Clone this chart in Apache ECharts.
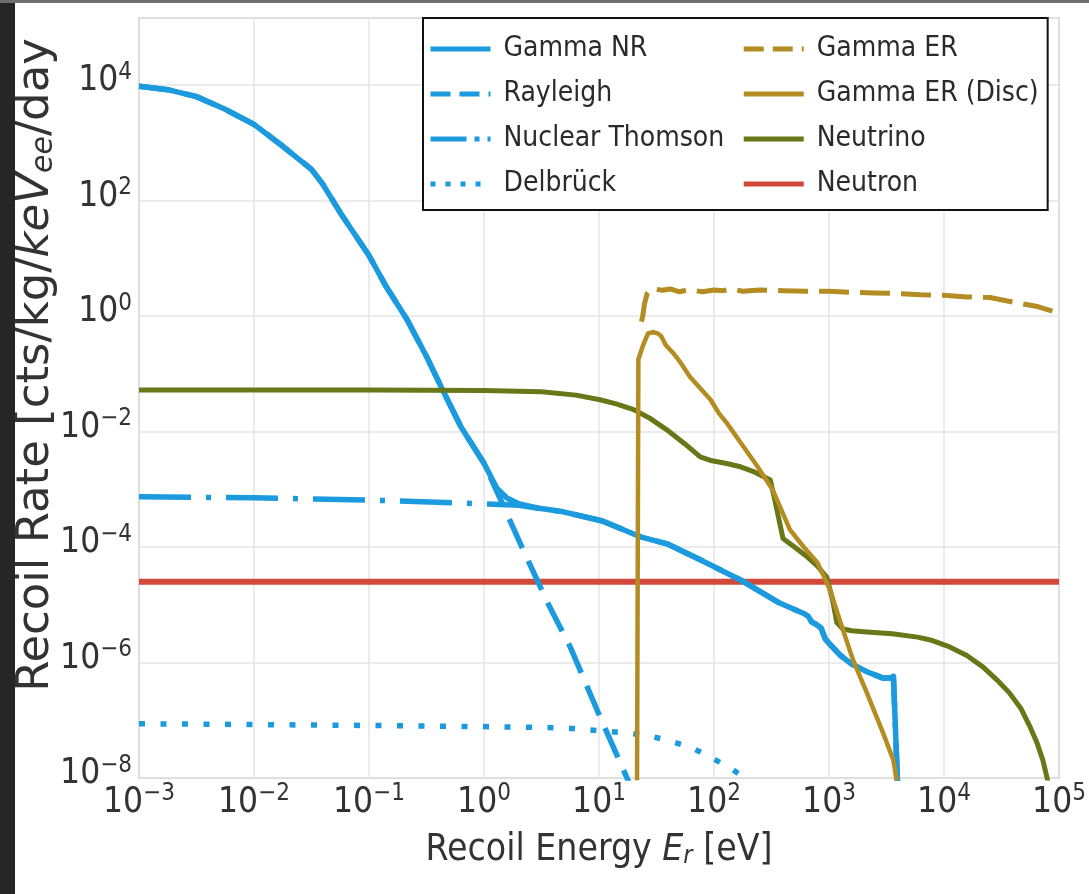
<!DOCTYPE html>
<html>
<head>
<meta charset="utf-8">
<script src="https://cdn.jsdelivr.net/npm/echarts@6/dist/echarts.min.js"></script>
<style>
  html, body { margin: 0; padding: 0; background: #ffffff; }
  #wrap { position: relative; width: 1089px; height: 894px; overflow: hidden; }
  #chart { position: absolute; left: 0; top: 0; width: 1089px; height: 894px; }
  .edge-left { position: absolute; left: 0; top: 0; width: 15px; height: 894px; background: #262626; }
  .edge-top { position: absolute; left: 0; top: 0; width: 1089px; height: 3px; background: #6e6e6e; }
</style>
</head>
<body>
<div id="wrap">
  <div id="chart"></div>
  <div class="edge-left"></div>
  <div class="edge-top"></div>
</div>
<script>
// Recoil spectra: energy in eV, rate in cts/kg/keVee/day

// Gamma NR (total nuclear recoil from gammas)
const nrEnergy = [1e-3, 1.78e-3, 3.16e-3, 5.62e-3, 1e-2, 1.78e-2, 3.16e-2, 3.98e-2, 5.62e-2, 0.1, 0.141, 0.214, 0.316, 0.437, 0.631, 1, 1.29, 1.58, 2.0, 2.82, 4.9, 10.7, 23.4, 39.8, 75.9, 170, 372, 603, 661, 708, 759, 851, 933, 1070, 1260, 1580, 2140, 2950, 3390, 3630, 3760, 3980];
const nrRate = [9.55e3, 8.32e3, 6.31e3, 3.8e3, 2.09e3, 871, 347, 190, 61.7, 11.2, 3.24, 0.871, 0.2, 5.25e-2, 1.2e-2, 2.82e-3, 1.05e-3, 7.08e-4, 5.62e-4, 4.79e-4, 4.07e-4, 2.82e-4, 1.48e-4, 1.12e-4, 6.03e-5, 2.69e-5, 1.07e-5, 7.08e-6, 6.31e-6, 5.01e-6, 4.68e-6, 3.98e-6, 2.51e-6, 1.86e-6, 1.32e-6, 9.33e-7, 6.92e-7, 5.37e-7, 5.37e-7, 5.75e-7, 1e-7, 5e-9];

// Rayleigh
const rayEnergy = [1e-3, 1.78e-3, 3.16e-3, 5.62e-3, 1e-2, 1.78e-2, 3.16e-2, 3.98e-2, 5.62e-2, 0.1, 0.141, 0.214, 0.316, 0.437, 0.631, 1, 1.41, 2.19, 3.55, 5.62, 10, 17.8, 20];
const rayRate = [9.55e3, 8.32e3, 6.31e3, 3.8e3, 2.09e3, 871, 347, 190, 61.7, 11.2, 3.24, 0.871, 0.2, 5.25e-2, 1.2e-2, 2.82e-3, 6.31e-4, 8.91e-5, 1.12e-5, 1.86e-6, 1.26e-7, 9.3e-9, 5e-9];

// Nuclear Thomson
const ntEnergy = [1e-3, 1e-2, 0.1, 1, 1.58, 2.0, 2.82, 4.9, 10.7, 23.4, 39.8, 75.9, 170, 372, 603, 661, 708, 759, 851, 933, 1070, 1260, 1580, 2140, 2950, 3390, 3630, 3760, 3980];
const ntRate = [7.4e-4, 7.1e-4, 6.5e-4, 5.6e-4, 5.4e-4, 5.3e-4, 4.79e-4, 4.07e-4, 2.82e-4, 1.48e-4, 1.12e-4, 6.03e-5, 2.69e-5, 1.07e-5, 7.08e-6, 6.31e-6, 5.01e-6, 4.68e-6, 3.98e-6, 2.51e-6, 1.86e-6, 1.32e-6, 9.33e-7, 6.92e-7, 5.37e-7, 5.37e-7, 5.75e-7, 1e-7, 5e-9];

// Delbrück
const delEnergy = [1e-3, 0.1, 1, 4.87, 17.8, 27.5, 41.7, 64.6, 95.5, 145, 170, 186];
const delRate = [8.71e-8, 8.13e-8, 7.76e-8, 7.41e-8, 6.03e-8, 5.37e-8, 4.37e-8, 3.31e-8, 2.24e-8, 1.41e-8, 1.12e-8, 7.9e-9];

// Gamma ER
const erEnergy = [23.4, 24.0, 24.8, 26.3, 28.2, 31.6, 35.5, 41.7, 50.1, 60.3, 79.4, 100, 120, 141, 178, 251, 398, 631, 1000, 1580, 2510, 3980, 6310, 1e4, 1.58e4, 2.51e4, 3.98e4, 6.31e4, 9.33e4];
const erRate = [0.8, 1.0, 1.6, 2.5, 3.0, 2.9, 2.8, 2.95, 2.63, 2.88, 2.63, 2.82, 2.75, 2.95, 2.69, 2.82, 2.75, 2.69, 2.69, 2.57, 2.51, 2.45, 2.34, 2.29, 2.14, 2.09, 1.74, 1.48, 1.17];

// Gamma ER (Disc)
const discEnergy = [21.4, 22.0, 24.0, 26.7, 29.5, 32.4, 34.7, 38.0, 43.7, 50.1, 61.7, 75.9, 93.3, 110, 129, 170, 234, 324, 457, 603, 794, 1020, 1260, 1620, 2140, 2950, 3630, 3980];
const discRate = [5e-9, 0.178, 0.3, 0.5, 0.525, 0.5, 0.45, 0.316, 0.234, 0.166, 8.91e-2, 5.62e-2, 3.55e-2, 2.09e-2, 1.41e-2, 6.46e-3, 2.63e-3, 9.77e-4, 2.0e-4, 1.0e-4, 5.37e-5, 1.82e-5, 4.9e-6, 1.1e-6, 2.95e-7, 6.03e-8, 2.04e-8, 6.3e-9];

// Neutrino
const nuEnergy = [1e-3, 0.1, 1, 3.16, 6.31, 10.2, 14.1, 20, 28.2, 38.9, 56.2, 75.9, 93.3, 126, 170, 224, 309, 339, 398, 501, 646, 794, 955, 1070, 1170, 1320, 1580, 2140, 3550, 5890, 7940, 1.12e4, 1.58e4, 2.19e4, 2.88e4, 3.72e4, 4.68e4, 5.62e4, 6.46e4, 7.24e4, 7.94e4, 8.32e4];
const nuRate = [5.25e-2, 5.25e-2, 5.13e-2, 4.9e-2, 4.27e-2, 3.55e-2, 3.02e-2, 2.4e-2, 1.66e-2, 1.07e-2, 6.03e-3, 3.63e-3, 3.16e-3, 2.82e-3, 2.45e-3, 2.0e-3, 1.45e-3, 6.31e-4, 1.41e-4, 1e-4, 6.76e-5, 4.68e-5, 3.02e-5, 1.26e-5, 4.9e-6, 3.8e-6, 3.55e-6, 3.39e-6, 3.16e-6, 2.75e-6, 2.4e-6, 1.86e-6, 1.32e-6, 8.32e-7, 5.01e-7, 2.95e-7, 1.58e-7, 7.59e-8, 3.98e-8, 2.04e-8, 9.33e-9, 5e-9];

// Neutron (flat)
const neutronEnergy = [1e-3, 1e5];
const neutronRate = [2.5e-5, 2.5e-5];

// Axis ranges
const xRange = [1e-3, 1e5];
const yRange = [1e-8, 1.45e5];

const BLUE = '#1b9ade';
const GOLD = '#b38c22';
const OLIVE = '#687818';
const RED = '#d2493a';

const NARROW = "'DejaVu Sans Condensed', 'Liberation Sans Narrow', 'Roboto Condensed', sans-serif";
const WIDE = "'DejaVu Sans', 'Liberation Sans', sans-serif";
const TEXT = '#333333';

function zip(xs, ys) { return xs.map((x, i) => [x, ys[i]]); }

function powLabel(v) {
  const lg = Math.log10(v);
  const e = Math.round(lg);
  if (Math.abs(lg - e) > 1e-6) return '';
  const sup = e < 0 ? '\u2212' + (-e) : String(e);
  return '{b|10}{s|' + sup + '}';
}

const tickRich = {
  b: { fontFamily: NARROW, fontSize: 35, color: TEXT },
  s: { fontFamily: NARROW, fontSize: 24, color: TEXT, padding: [0, 0, 17, 0] }
};

function line(name, xs, ys, color, width, type, z) {
  return {
    name: name, type: 'line', data: zip(xs, ys),
    showSymbol: false, symbol: 'none', z: z,
    lineStyle: { color: color, width: width, type: type, cap: 'butt', join: 'round' },
    itemStyle: { color: color },
    emphasis: { disabled: true },
    animation: false
  };
}

const chart = echarts.init(document.getElementById('chart'), null, { renderer: 'canvas' });

chart.setOption({
  backgroundColor: '#ffffff',
  animation: false,
  grid: {
    left: 139, right: 30, top: 18, bottom: 116,
    show: true, borderColor: '#cfcfcf', borderWidth: 2, backgroundColor: '#ffffff'
  },
  xAxis: {
    type: 'log', logBase: 10, min: xRange[0], max: xRange[1], interval: 1,
    name: '{n|Recoil Energy }{i|E}{r|r}{n| [eV]}',
    nameLocation: 'middle', nameGap: 54,
    nameTextStyle: {
      rich: {
        n: { fontFamily: NARROW, fontSize: 37, color: TEXT },
        i: { fontFamily: NARROW, fontSize: 37, fontStyle: 'italic', color: TEXT },
        r: { fontFamily: NARROW, fontSize: 25, fontStyle: 'italic', color: TEXT, padding: [12, 0, 0, 0] }
      }
    },
    axisLine: { show: false },
    axisTick: { show: false },
    minorTick: { show: false },
    splitLine: { show: true, lineStyle: { color: '#e4e4e4', width: 1.5 } },
    axisLabel: { margin: 4, formatter: powLabel, rich: tickRich, hideOverlap: false }
  },
  yAxis: {
    type: 'log', logBase: 10, min: yRange[0], max: yRange[1], interval: 2,
    name: '{n|Recoil Rate [cts/kg/}{i|keV}{e|ee}{n|/day}',
    nameLocation: 'middle', nameGap: 80, nameRotate: 90,
    nameMoveOverlap: false,
    nameTextStyle: {
      padding: [0, 0, 0, 66],
      rich: {
        n: { fontFamily: WIDE, fontSize: 45, color: TEXT },
        i: { fontFamily: WIDE, fontSize: 45, fontStyle: 'italic', color: TEXT },
        e: { fontFamily: WIDE, fontSize: 30, fontStyle: 'italic', color: TEXT, padding: [15, 0, 0, 0] }
      }
    },
    axisLine: { show: false },
    axisTick: { show: false },
    minorTick: { show: false },
    splitLine: { show: true, lineStyle: { color: '#e4e4e4', width: 1.5 } },
    axisLabel: { margin: 7, padding: [0, 0, 8, 0], formatter: powLabel, rich: tickRich, hideOverlap: false }
  },
  legend: {
    orient: 'vertical',
    left: 423, top: 18, height: 170,
    padding: [17, 9, 12, 5],
    itemGap: 17,
    itemWidth: 60, itemHeight: 20,
    borderColor: '#111111', borderWidth: 2, borderRadius: 0,
    backgroundColor: '#ffffff',
    itemStyle: { opacity: 0 },
    textStyle: { fontFamily: NARROW, fontSize: 28, color: '#2a2a2a', width: 228, padding: [0, 0, 0, 8] },
    data: [
      { name: 'Gamma NR', lineStyle: { width: 5, type: 'solid' } },
      { name: 'Rayleigh', lineStyle: { width: 5, type: [20, 9] } },
      { name: 'Nuclear Thomson', lineStyle: { width: 5, type: [36, 8, 5, 8] } },
      { name: 'Delbrück', lineStyle: { width: 5, type: [5, 10] } },
      { name: 'Gamma ER', lineStyle: { width: 5, type: [20, 9] } },
      { name: 'Gamma ER (Disc)', lineStyle: { width: 5, type: 'solid' } },
      { name: 'Neutrino', lineStyle: { width: 5, type: 'solid' } },
      { name: 'Neutron', lineStyle: { width: 5, type: 'solid' } }
    ]
  },
  series: [
    line('Neutron', neutronEnergy, neutronRate, RED, 6, 'solid', 2),
    line('Gamma NR', nrEnergy, nrRate, BLUE, 5.5, 'solid', 5),
    line('Rayleigh', rayEnergy, rayRate, BLUE, 5.5, [32, 14], 4),
    line('Nuclear Thomson', ntEnergy, ntRate, BLUE, 5.5, [52, 15, 5, 15], 4),
    line('Delbrück', delEnergy, delRate, BLUE, 5.5, [6, 15.5], 4),
    line('Gamma ER', erEnergy, erRate, GOLD, 5, [30, 11], 6),
    line('Gamma ER (Disc)', discEnergy, discRate, GOLD, 4.5, 'solid', 6),
    line('Neutrino', nuEnergy, nuRate, OLIVE, 5, 'solid', 5)
  ]
});
</script>
</body>
</html>
